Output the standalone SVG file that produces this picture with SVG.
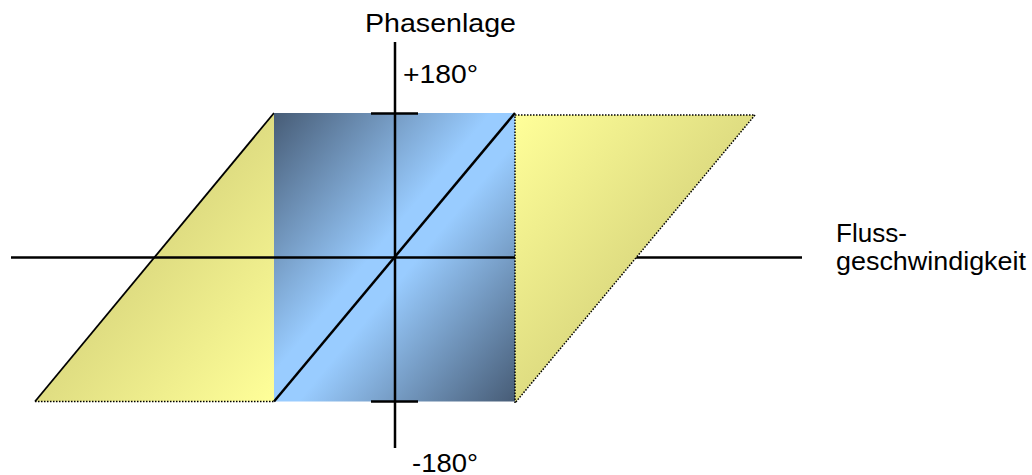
<svg xmlns="http://www.w3.org/2000/svg" width="1032" height="475" viewBox="0 0 1032 475">
<style>
.ax{stroke:#000;stroke-width:2.5;fill:none;stroke-linecap:butt}
.dot{stroke:#000;stroke-width:1.5;stroke-dasharray:1.5,1.5;fill:none}
.t{font-family:"Liberation Sans",Arial,sans-serif;font-size:26px;fill:#000}
</style>
<defs>
<linearGradient id="blue" x1="0" y1="0" x2="1" y2="1">
<stop offset="0" stop-color="#475c76"/>
<stop offset="0.45" stop-color="#99ccff"/>
<stop offset="0.55" stop-color="#99ccff"/>
<stop offset="1" stop-color="#475c76"/>
</linearGradient>
<linearGradient id="yl" x1="0" y1="0" x2="1" y2="1">
<stop offset="0" stop-color="#bfbb6a"/>
<stop offset="1" stop-color="#ffff99"/>
</linearGradient>
<linearGradient id="yr" x1="0" y1="0" x2="1" y2="1">
<stop offset="0" stop-color="#ffff99"/>
<stop offset="1" stop-color="#bfbb6a"/>
</linearGradient>
</defs>
<g id="left-triangle">
<polygon points="274,113 35,401.5 274,401.5" fill="url(#yl)"/>
<line x1="274" y1="113" x2="35" y2="401.5" stroke="#000" stroke-width="1.8"/>
<line x1="35" y1="401.5" x2="274" y2="401.5" class="dot"/>
</g>
<g id="square">
<rect x="274" y="113" width="241" height="288.5" fill="url(#blue)"/>
</g>
<g id="axes">
<line x1="11" y1="257.5" x2="802" y2="257.5" class="ax"/>
<line x1="395" y1="42" x2="395" y2="448" class="ax"/>
<line x1="371" y1="113.5" x2="418" y2="113.5" class="ax"/>
<line x1="371" y1="401.5" x2="418" y2="401.5" class="ax"/>
<line x1="274" y1="401.5" x2="515" y2="113" class="ax"/>
</g>
<g id="right-triangle">
<polygon points="515,115 755,115 515,403" fill="url(#yr)"/>
<polyline points="515,403 515,115 755,115 515,403" class="dot"/>
</g>
<g id="labels">
<text class="t" x="365" y="32" textLength="151" lengthAdjust="spacingAndGlyphs">Phasenlage</text>
<text class="t" x="403" y="83" textLength="75" lengthAdjust="spacingAndGlyphs">+180°</text>
<text class="t" x="412" y="472" textLength="66" lengthAdjust="spacingAndGlyphs">-180°</text>
<text class="t" x="836" y="242" textLength="71" lengthAdjust="spacingAndGlyphs">Fluss-</text>
<text class="t" x="836" y="270" textLength="190" lengthAdjust="spacingAndGlyphs">geschwindigkeit</text>
</g>
</svg>
